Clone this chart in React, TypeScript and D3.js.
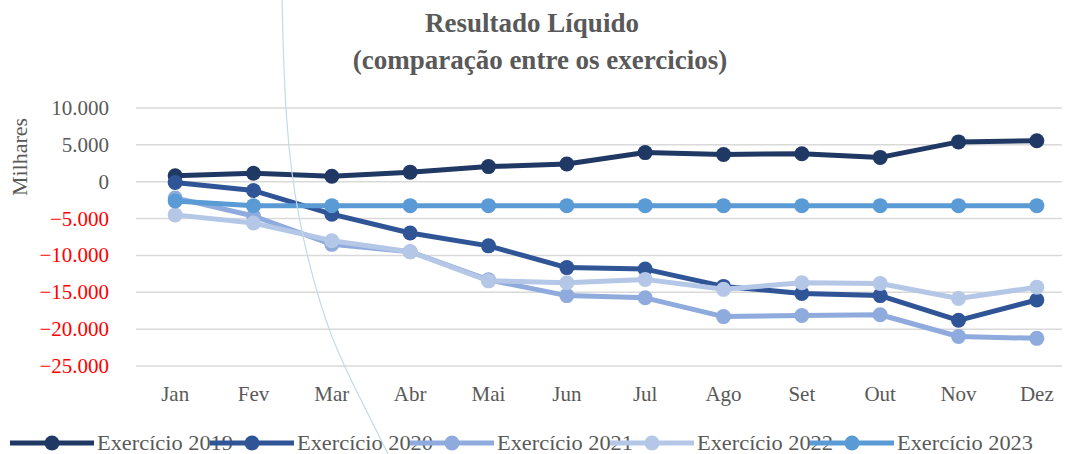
import { useEffect, useRef } from "react";
import * as d3 from "d3";

// chart data
const months = ["Jan", "Fev", "Mar", "Abr", "Mai", "Jun", "Jul", "Ago", "Set", "Out", "Nov", "Dez"];
const seriesNames = ["Exercício 2019", "Exercício 2020", "Exercício 2021", "Exercício 2022", "Exercício 2023"];
const colors = ["#203864", "#2F5597", "#8FAADC", "#B4C7E7", "#5B9BD5"];
const ex2019 = [800, 1150, 750, 1300, 2050, 2400, 3950, 3700, 3800, 3300, 5400, 5550];
const ex2020 = [-100, -1200, -4400, -6950, -8700, -11650, -11850, -14200, -15150, -15450, -18800, -16050];
const ex2021 = [-2200, -4650, -8500, -9500, -13300, -15450, -15750, -18300, -18150, -18050, -21000, -21250];
const ex2022 = [-4500, -5600, -8000, -9500, -13450, -13700, -13250, -14600, -13700, -13800, -15850, -14300];
const ex2023 = [-2600, -3250, -3250, -3250, -3250, -3250, -3250, -3250, -3250, -3250, -3250, -3250];
const yTicks = [10000, 5000, 0, -5000, -10000, -15000, -20000, -25000];

const FONT = "Liberation Serif, DejaVu Serif, serif";

export default function App() {
  const ref = useRef<SVGSVGElement>(null);

  useEffect(() => {
    const svg = d3.select(ref.current);
    svg.selectAll("*").remove();

    const x = d3.scalePoint<string>().domain(months).range([136, 1076]).padding(0.5);
    const y = d3.scaleLinear().domain([-25000, 10000]).range([366, 108]);
    const fmt = (v: number) => d3.format(",")(v).replace(/,/g, ".");

    // gridlines
    svg.append("g")
      .selectAll("line")
      .data(yTicks)
      .join("line")
      .attr("x1", 136)
      .attr("x2", 1062)
      .attr("y1", d => y(d))
      .attr("y2", d => y(d))
      .attr("stroke", "#D9D9D9")
      .attr("stroke-width", 1.5);

    // y tick labels
    svg.append("g")
      .attr("font-family", FONT)
      .attr("font-size", 21)
      .attr("text-anchor", "end")
      .selectAll("text")
      .data(yTicks)
      .join("text")
      .attr("x", 109)
      .attr("y", d => y(d) + 7)
      .attr("fill", d => (d < 0 ? "#FF0000" : "#595959"))
      .text(d => fmt(d));

    // month labels
    svg.append("g")
      .attr("font-family", FONT)
      .attr("font-size", 21)
      .attr("text-anchor", "middle")
      .attr("fill", "#595959")
      .selectAll("text")
      .data(months)
      .join("text")
      .attr("x", d => x(d)!)
      .attr("y", 401)
      .text(d => d);

    // axis title
    svg.append("text")
      .attr("transform", "translate(27,157) rotate(-90)")
      .attr("text-anchor", "middle")
      .attr("font-family", FONT)
      .attr("font-size", 22)
      .attr("fill", "#595959")
      .text("Milhares");

    // title
    const title = svg.append("text")
      .attr("text-anchor", "middle")
      .attr("font-family", FONT)
      .attr("font-size", 27)
      .attr("font-weight", "bold")
      .attr("fill", "#595959");
    title.append("tspan").attr("x", 532).attr("y", 32).text("Resultado Líquido");
    title.append("tspan").attr("x", 540).attr("y", 69).text("(comparação entre os exercicios)");

    // series
    const allSeries = [ex2019, ex2020, ex2021, ex2022, ex2023];
    const line = d3.line<number>()
      .x((_, i) => x(months[i])!)
      .y(d => y(d));

    allSeries.forEach((vals, si) => {
      const g = svg.append("g");
      g.append("path")
        .attr("d", line(vals))
        .attr("fill", "none")
        .attr("stroke", colors[si])
        .attr("stroke-width", 5)
        .attr("stroke-linejoin", "round");
      g.selectAll("circle")
        .data(vals)
        .join("circle")
        .attr("cx", (_, i) => x(months[i])!)
        .attr("cy", d => y(d))
        .attr("r", 7.5)
        .attr("fill", colors[si]);
    });

    // faint decorative arc
    const arcPts: [number, number][] = [[282, 0], [285, 120], [297, 220], [327, 330], [350, 378], [388, 454]];
    svg.append("path")
      .attr("d", d3.line().curve(d3.curveBasis)(arcPts))
      .attr("fill", "none")
      .attr("stroke", "#BFDCE8")
      .attr("stroke-width", 1.2);

    // legend
    const legend = svg.append("g")
      .selectAll("g")
      .data(seriesNames)
      .join("g")
      .attr("transform", (_, i) => `translate(${10 + i * 200},443)`);
    legend.append("line")
      .attr("x1", 0)
      .attr("x2", 84)
      .attr("stroke", (_, i) => colors[i])
      .attr("stroke-width", 5);
    legend.append("circle")
      .attr("cx", 42)
      .attr("r", 7.5)
      .attr("fill", (_, i) => colors[i]);
    legend.append("text")
      .attr("x", 87)
      .attr("y", 7)
      .attr("font-family", FONT)
      .attr("font-size", 22)
      .attr("textLength", 136)
      .attr("lengthAdjust", "spacingAndGlyphs")
      .attr("fill", "#595959")
      .text(d => d);
  }, []);

  return (
    <svg
      ref={ref}
      width={1070}
      height={454}
      style={{ position: "absolute", left: 0, top: 0, background: "#fff" }}
    />
  );
}
